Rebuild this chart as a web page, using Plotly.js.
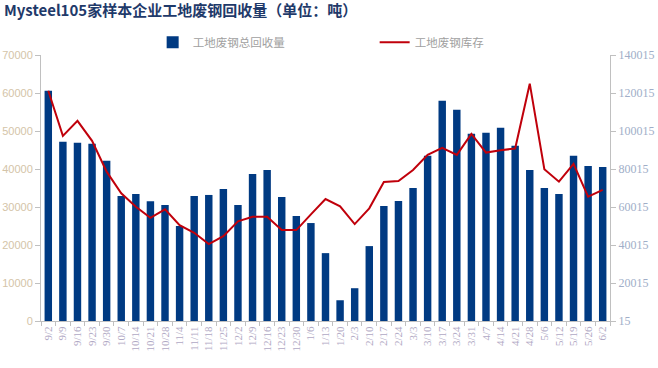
<!DOCTYPE html>
<html><head><meta charset="utf-8">
<script src="https://cdn.plot.ly/plotly-3.0.1.min.js"></script>
<style>html,body{margin:0;padding:0;background:#fff}#c{width:658px;height:368px}</style>
</head><body><div id="c"></div>
<script>
const categories = ["9/2","9/9","9/16","9/23","9/30","10/7","10/14","10/21","10/28","11/4","11/11","11/18","11/25","12/2","12/9","12/16","12/23","12/30","1/6","1/13","1/20","2/3","2/10","2/17","2/24","3/3","3/10","3/17","3/24","3/31","4/7","4/14","4/21","4/28","5/6","5/12","5/19","5/26","6/2"];
const recovery = [60600,47150,46880,46620,42140,32900,33430,31500,30530,24990,32900,33170,34750,30530,38700,39760,32640,27620,25780,17860,5460,8630,19710,30270,31590,35020,43460,57970,55590,49260,49520,50840,46090,39760,35020,33430,43460,40820,40550];
const inventory = [121200,97470,105380,94830,78630,67230,60160,54350,58790,50500,46440,40470,44700,52450,54880,54880,47860,47860,56150,64220,60350,51030,59320,73200,73720,79520,87450,91150,87450,98530,88670,89930,90780,124920,79900,73360,82700,65450,68990];
const leftTicks = [0,10000,20000,30000,40000,50000,60000,70000];
const rightTicks = [15,20015,40015,60015,80015,100015,120015,140015];
const titleText = "Mysteel105家样本企业工地废钢回收量（单位：吨）";
const seriesNames = ["工地废钢总回收量","工地废钢库存"];

const data = [
  {type:"bar", x:categories, y:recovery, name:seriesNames[0], marker:{color:"#003a82"}, yaxis:"y"},
  {type:"scatter", mode:"lines", x:categories, y:inventory, name:seriesNames[1], line:{color:"#c0000b", width:2}, yaxis:"y2"}
];
const layout = {
  width:658, height:368,
  margin:{l:41, r:48, t:55, b:47, autoexpand:false},
  paper_bgcolor:"#fff", plot_bgcolor:"#fff",
  bargap:0.49,
  title:{text:"<b>"+titleText+"</b>", x:0.006, xanchor:"left", xref:"container", y:0.985, yanchor:"top", yref:"container",
    font:{family:"Noto Sans CJK SC, sans-serif", size:15, color:"#1f3a6a"}},
  showlegend:true,
  legend:{orientation:"h", x:0.232, xanchor:"left", xref:"container", y:0.885, yanchor:"middle", yref:"container",
    entrywidth:177, entrywidthmode:"pixels",
    font:{family:"Noto Sans CJK SC, sans-serif", size:11.5, color:"#a0a0a0"}, itemwidth:30, traceorder:"normal"},
  xaxis:{type:"category", showgrid:false, showline:true, linecolor:"#c0c0c0", linewidth:1, automargin:false,
    ticks:"outside", tickson:"boundaries", ticklen:4, tickcolor:"#c0c0c0", tickangle:-90,
    tickfont:{family:"Liberation Serif, serif", size:11, color:"#b0a8c4"}, range:[-0.5,38.5]},
  yaxis:{range:[0,70000], tickvals:leftTicks, ticktext:leftTicks.map(String), showgrid:false, showline:true, linecolor:"#c0c0c0",
    ticks:"outside", ticklen:5, tickcolor:"#c0c0c0", zeroline:false, automargin:false,
    tickfont:{family:"Liberation Sans, sans-serif", size:11, color:"#d4c4a8"}},
  yaxis2:{overlaying:"y", side:"right", range:[15,140015], tickvals:rightTicks, ticktext:rightTicks.map(String), showgrid:false, showline:true,
    linecolor:"#c0c0c0", ticks:"outside", ticklen:5, tickcolor:"#c0c0c0", zeroline:false, automargin:false,
    tickfont:{family:"Liberation Serif, serif", size:12, color:"#a0aec8"}}
};
Plotly.newPlot("c", data, layout, {staticPlot:true, displayModeBar:false});
</script></body></html>
